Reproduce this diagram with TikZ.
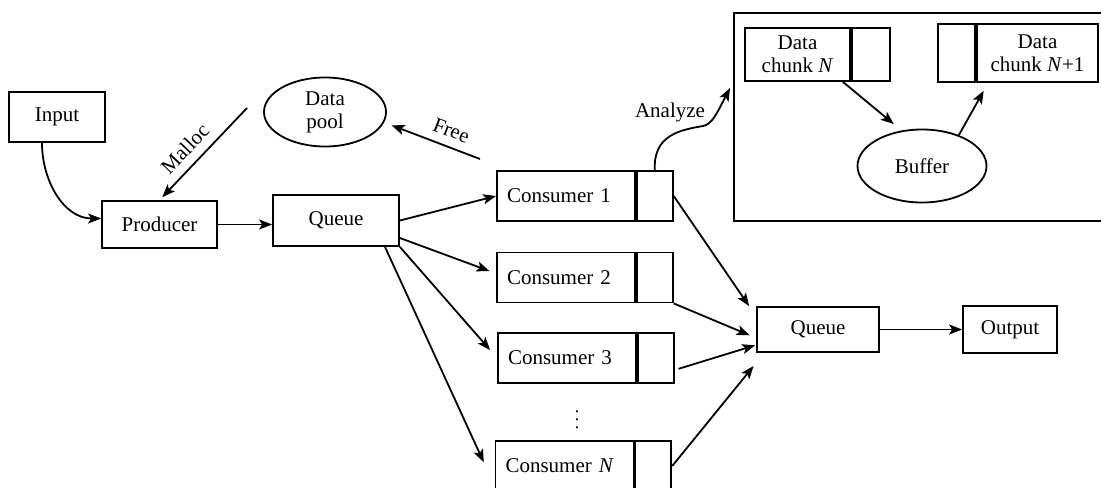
\documentclass[tikz,border=0pt]{standalone}
\usepackage{fontspec}
\setmainfont{Liberation Serif}
\usetikzlibrary{arrows.meta,shapes.geometric}
\tikzset{
  base/.style={
    line width=0.9pt,
    font=\fontsize{10.5}{11.5}\selectfont
  },
  block/.style={draw, rectangle, inner sep=0pt, align=center},
  block-consumer/.style={
    draw, rectangle,
    text width=59pt, inner xsep=5pt, inner ysep=0pt,
    minimum height=25pt, align=left
  },
  block-cell/.style={draw, rectangle, inner sep=0pt, minimum width=18pt, minimum height=25pt},
  store/.style={draw, ellipse, inner sep=0pt, align=center},
  flow/.style={-{Stealth[length=6.5pt,width=5pt,inset=1.5pt]}},
  flow-label/.style={sloped, above=1pt}
}

\begin{document}
\begin{tikzpicture}[base, x=0.5pt, y=-0.5pt]
  \useasboundingbox (0,0) rectangle (1101,487);
  \clip (0,0) rectangle (1101,487);
  % Producer side
  \node[block, minimum width=48pt, minimum height=25pt] (input) at (57,117) {Input};
  \node[block, minimum width=57.5pt, minimum height=23.5pt] (producer) at (159.5,224.5) {Producer};
  \node[block, minimum width=63pt, minimum height=25.5pt] (queue-in) at (336,220.5) {Queue};
  \node[store, minimum width=61pt, minimum height=34.5pt] (pool) at (325,112) {Data\\pool};
  \coordinate (malloc-start) at (247,108);
  \coordinate (free-start) at (480,159);

  % Consumers
  \node[block-consumer] (cons1) at (566,196) {Consumer 1};
  \node[block-cell, anchor=west] (cons1-cell) at (cons1.east) {};
  \node[block-consumer] (cons2) at (566,277.5) {Consumer 2};
  \node[block-cell, anchor=west] (cons2-cell) at (cons2.east) {};
  \node[block-consumer] (cons3) at (567,358) {Consumer 3};
  \node[block-cell, anchor=west] (cons3-cell) at (cons3.east) {};
  \node (dots) at (577,414) {\fontsize{9}{9}\selectfont$\vdots$};
  \node[block-consumer] (consN) at (564.5,466) {Consumer \textit{N}};
  \node[block-cell, anchor=west] (consN-cell) at (consN.east) {};

  % Output side
  \node[block, minimum width=61pt, minimum height=22.5pt] (queue-out) at (818,329.5) {Queue};
  \node[block, minimum width=47pt, minimum height=23.5pt] (output) at (1010,329.5) {Output};

  % Analysis panel
  \draw (734,13) rectangle (1120,221);
  \node[block, minimum width=52.5pt, minimum height=26.5pt] (chunk) at (797.5,54.5) {Data\\chunk \textit{N}};
  \node[block, minimum width=19pt, minimum height=26.5pt, anchor=west] (chunk-cell) at (chunk.east) {};
  \node[block, minimum width=60.5pt, minimum height=29pt] (chunk-next) at (1037.5,53) {Data\\chunk \textit{N}+1};
  \node[block, minimum width=18.5pt, minimum height=29pt, anchor=east] (chunk-next-cell) at (chunk-next.west) {};
  \node[store, minimum width=64.5pt, minimum height=36.5pt] (buffer) at (922,166) {Buffer};
  \coordinate (analyze-end) at (730,88);
  \node (analyze) at (670,112) {Analyze};

  % Connectors
  \draw[flow] ([xshift=-7.5pt]input.south) to[out=-90, in=180] ([yshift=3pt]producer.west);
  \draw[flow, shorten >=2pt] (malloc-start) -- node[flow-label, pos=0.57] {Malloc} (producer.north);
  \draw[flow] (producer.east) -- (producer.east -| queue-in.west);
  \draw[flow, shorten >=4pt] (free-start) -- node[flow-label, pos=0.36] {Free} (pool.-10);

  \draw[flow] (queue-in.east) -- (cons1.west);
  \draw[flow, shorten >=3.5pt] ([yshift=-8.75pt]queue-in.east) -- ([yshift=2pt]cons2.west);
  \draw[flow, shorten >=5.3pt] (queue-in.south east) -- (cons3.west);
  \draw[flow, shorten >=13pt] ([xshift=24.5pt]queue-in.south) -- ([yshift=-10pt]consN.west);

  \draw[flow] (cons1-cell.east) -- ([xshift=-3.5pt]queue-out.north west);
  \draw[flow, shorten >=3.5pt] (cons2-cell.south east) -- ([yshift=-4.25pt]queue-out.west);
  \draw[flow, shorten <=2pt, shorten >=0.5pt] ([yshift=-6pt]cons3-cell.east) -- ([yshift=-7.75pt]queue-out.west);
  \draw[flow, shorten >=2pt] (consN-cell.east) -- ([yshift=-5pt]queue-out.south west);
  \draw[flow] (queue-out) -- (output);

  \draw[flow] (cons1-cell.north) .. controls (653,135) and (680,130) .. (703,126)
    .. controls (712,124) and (716,115) .. (analyze-end);
  \draw[flow, shorten >=5pt] ([xshift=-4pt]chunk.south east) -- (buffer.120);
  \draw[flow, shorten >=4.5pt] (buffer.40) -- ([xshift=6pt]chunk-next.south west);
\end{tikzpicture}
\end{document}
